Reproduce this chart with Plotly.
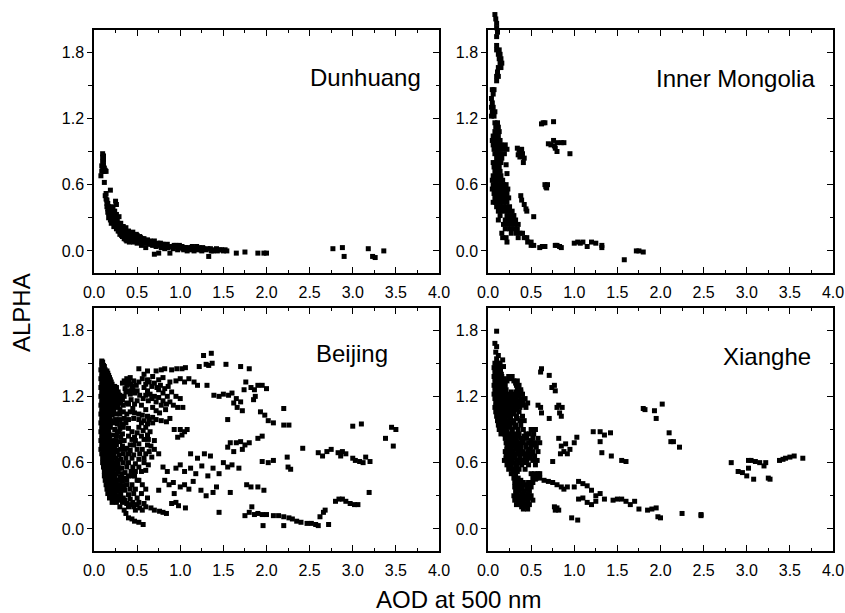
import plotly.graph_objects as go

# ---------------- data (AOD at 500 nm, ALPHA) ----------------
DUNHUANG = [
    (0.08,0.68),(0.09,0.72),(0.09,0.77),(0.10,0.81),(0.10,0.85),(0.10,0.88),(0.11,0.86),(0.11,0.82),
    (0.11,0.78),(0.12,0.75),(0.12,0.72),(0.13,0.73),(0.14,0.72),(0.10,0.74),
    (0.12,0.62),(0.14,0.52),(0.19,0.55),(0.15,0.46),(0.16,0.43),(0.15,0.40),(0.17,0.40),(0.18,0.37),
    (0.16,0.35),(0.18,0.33),(0.17,0.30),(0.19,0.28),(0.20,0.35),(0.21,0.40),(0.22,0.38),(0.23,0.33),
    (0.24,0.30),(0.25,0.45),(0.26,0.42),(0.20,0.25),(0.21,0.31),(0.22,0.27),(0.23,0.22),(0.24,0.36),
    (0.25,0.24),(0.26,0.20),(0.26,0.33),(0.27,0.28),(0.28,0.25),(0.28,0.18),(0.29,0.22),(0.29,0.31),
    (0.30,0.20),(0.30,0.15),(0.31,0.25),(0.32,0.17),(0.32,0.21),(0.33,0.22),(0.33,0.13),(0.34,0.14),
    (0.34,0.19),(0.35,0.19),(0.35,0.11),(0.36,0.16),(0.37,0.21),(0.37,0.10),(0.38,0.13),(0.38,0.09),
    (0.39,0.17),(0.40,0.18),(0.40,0.12),(0.41,0.08),(0.42,0.15),(0.43,0.10),(0.44,0.13),(0.45,0.17),
    (0.46,0.08),(0.47,0.12),(0.48,0.10),(0.49,0.15),(0.50,0.14),(0.50,0.07),(0.52,0.10),(0.53,0.13),
    (0.54,0.12),(0.55,0.05),(0.56,0.09),(0.57,0.11),(0.58,0.11),(0.60,0.07),(0.60,0.03),(0.61,0.09),
    (0.62,0.10),(0.64,0.06),(0.65,0.09),(0.66,0.08),(0.68,0.05),(0.69,0.08),(0.70,0.09),(0.70,-0.03),
    (0.72,0.04),(0.73,0.06),(0.74,0.07),(0.75,-0.02),(0.76,0.05),(0.78,0.03),(0.79,0.06),(0.80,0.06),
    (0.82,0.02),(0.83,0.05),(0.84,0.05),(0.86,0.03),(0.88,-0.02),(0.88,0.04),(0.90,0.04),(0.92,0.02),
    (0.94,0.04),(0.95,0.05),(0.97,0.01),(0.98,0.03),(1.00,0.03),(1.02,0.04),(1.04,0.01),(1.05,0.03),
    (1.06,0.03),(1.08,0.00),(1.10,0.03),(1.12,0.01),(1.13,0.03),(1.14,0.04),(1.16,0.00),(1.18,0.02),
    (1.20,0.01),(1.22,0.03),(1.24,0.01),(1.25,0.00),(1.27,0.02),(1.30,0.01),(1.33,-0.05),(1.35,0.02),
    (1.38,0.00),(1.40,0.01),(1.43,0.00),(1.46,0.01),(1.50,0.00),(1.54,0.00),(1.65,-0.02),(1.75,-0.01),
    (1.90,-0.02),(1.97,-0.02),(2.00,-0.02),(2.77,0.02),(2.88,0.03),(2.90,-0.05),(3.18,0.02),(3.23,-0.05),
    (3.26,-0.06),(3.36,0.00),
    (0.13,0.50),(0.14,0.47),(0.15,0.43),(0.16,0.38),(0.17,0.34),(0.19,0.32),(0.20,0.29),(0.21,0.27),
    (0.22,0.33),(0.23,0.29),(0.24,0.26),(0.25,0.28),(0.26,0.24),(0.27,0.22),(0.28,0.21),(0.29,0.18),
    (0.30,0.24),(0.31,0.19),(0.32,0.14),(0.33,0.17),(0.34,0.22),(0.36,0.13),(0.37,0.15),(0.39,0.11),
    (0.40,0.15),(0.42,0.12),(0.43,0.16),(0.44,0.10),(0.46,0.14),(0.48,0.13),(0.51,0.11),(0.53,0.08),
    (0.55,0.11),(0.58,0.08),(0.63,0.08),(0.67,0.06),(0.71,0.06),(0.77,0.07),(0.81,0.04),(0.85,0.06),
    (0.93,0.05),(0.99,0.05),(1.03,0.02),(1.09,0.02),(1.15,0.02),(1.19,0.04),(1.26,0.03),(1.32,0.02),
    (1.36,0.00),(1.42,0.02),(1.48,0.01),(1.52,0.01),
]

INNER_MONGOLIA = [
    (0.08,2.14),(0.09,2.10),(0.10,2.06),(0.10,2.02),(0.11,1.98),(0.10,1.94),
    (0.10,1.86),(0.10,1.82),(0.13,1.82),(0.12,1.78),(0.14,1.78),(0.13,1.74),(0.15,1.74),(0.14,1.70),
    (0.16,1.70),(0.12,1.66),(0.15,1.66),(0.11,1.62),(0.10,1.58),(0.12,1.58),(0.10,1.54),
    (0.05,1.46),(0.07,1.46),(0.06,1.42),(0.04,1.38),(0.05,1.34),(0.04,1.30),(0.06,1.30),(0.05,1.26),
    (0.08,1.26),(0.04,1.22),(0.07,1.22),
    (0.08,1.16),(0.11,1.16),(0.09,1.12),(0.12,1.12),(0.08,1.08),(0.11,1.08),(0.13,1.08),(0.06,1.04),
    (0.09,1.04),(0.12,1.04),(0.05,1.00),(0.08,1.00),(0.11,1.00),(0.14,1.00),(0.06,0.96),(0.09,0.96),
    (0.12,0.96),(0.15,0.96),(0.20,0.96),(0.07,0.92),(0.10,0.92),(0.13,0.92),(0.17,0.92),(0.22,0.92),
    (0.08,0.88),(0.11,0.88),(0.14,0.88),(0.19,0.88),(0.10,0.84),(0.13,0.84),(0.16,0.84),
    (0.06,0.80),(0.09,0.80),(0.12,0.80),(0.15,0.80),(0.21,0.78),(0.07,0.76),(0.10,0.76),(0.13,0.76),
    (0.22,0.70),(0.08,0.72),(0.11,0.72),(0.14,0.72),(0.06,0.68),(0.09,0.68),(0.12,0.68),(0.15,0.68),
    (0.05,0.64),(0.08,0.64),(0.11,0.64),(0.14,0.64),(0.17,0.64),(0.06,0.60),(0.09,0.60),(0.12,0.60),
    (0.15,0.60),(0.18,0.60),(0.21,0.60),(0.05,0.56),(0.08,0.56),(0.11,0.56),(0.14,0.56),(0.17,0.56),
    (0.20,0.56),(0.23,0.56),(0.07,0.52),(0.10,0.52),(0.13,0.52),(0.16,0.52),(0.19,0.52),(0.22,0.52),
    (0.08,0.48),(0.11,0.48),(0.14,0.48),(0.17,0.48),(0.20,0.48),(0.24,0.48),(0.06,0.44),(0.09,0.44),
    (0.12,0.44),(0.15,0.44),(0.18,0.44),(0.22,0.44),(0.10,0.40),(0.13,0.40),(0.17,0.40),(0.21,0.40),
    (0.25,0.40),(0.12,0.36),(0.15,0.36),(0.20,0.36),(0.24,0.36),(0.28,0.36),(0.14,0.32),(0.22,0.32),
    (0.26,0.32),(0.30,0.32),(0.12,0.28),(0.20,0.28),(0.24,0.28),(0.28,0.28),(0.32,0.28),(0.18,0.24),
    (0.23,0.24),(0.27,0.24),(0.31,0.24),(0.35,0.24),(0.20,0.20),(0.25,0.20),(0.30,0.20),(0.34,0.20),
    (0.16,0.16),(0.27,0.16),(0.33,0.16),(0.37,0.16),(0.40,0.16),(0.17,0.12),(0.21,0.12),(0.35,0.12),
    (0.42,0.12),(0.45,0.12),(0.22,0.08),(0.46,0.08),(0.50,0.08),(0.50,0.05),(0.53,0.05),(0.60,0.03),
    (0.63,0.04),(0.66,0.04),
    (0.78,0.05),(0.80,0.05),(0.83,0.04),(0.85,0.03),
    (1.00,0.07),(1.04,0.08),(1.07,0.07),(1.10,0.08),(1.15,0.04),(1.20,0.08),(1.25,0.07),(1.32,0.05),
    (1.32,0.03),(1.58,-0.08),(1.72,0.00),(1.75,0.00),(1.80,-0.01),
    (0.34,0.93),(0.36,0.91),(0.38,0.90),(0.35,0.87),(0.37,0.85),(0.40,0.88),(0.42,0.84),(0.41,0.80),
    (0.39,0.92),(0.38,0.50),(0.39,0.46),(0.42,0.42),(0.44,0.38),(0.45,0.36),(0.53,0.31),
    (0.66,0.60),(0.67,0.58),(0.68,0.57),(0.69,0.60),
    (0.62,1.15),(0.64,1.16),(0.66,1.16),(0.76,1.17),
    (0.70,0.97),(0.73,0.96),(0.76,1.00),(0.78,0.93),(0.80,0.90),(0.80,0.98),(0.85,0.98),(0.88,0.98),
    (0.77,0.95),(0.95,0.88),
]

BEIJING = [
    (0.09,1.52),(0.10,1.51),(0.09,1.48),(0.11,1.48),(0.12,1.47),(0.08,1.44),(0.10,1.44),(0.13,1.44),
    (0.15,1.43),(0.09,1.40),(0.11,1.40),(0.14,1.40),(0.17,1.39),(0.08,1.36),(0.10,1.36),(0.13,1.36),
    (0.16,1.36),(0.19,1.35),(0.42,1.37),(0.09,1.32),(0.12,1.32),(0.15,1.32),(0.18,1.32),(0.21,1.31),
    (0.33,1.32),(0.38,1.30),(0.08,1.28),(0.10,1.28),(0.13,1.28),(0.16,1.28),(0.19,1.28),(0.23,1.27),
    (0.26,1.28),(0.36,1.27),(0.44,1.29),(0.09,1.24),(0.12,1.24),(0.15,1.24),(0.18,1.24),(0.21,1.24),
    (0.24,1.23),(0.28,1.24),(0.40,1.25),(0.47,1.23),(0.08,1.20),(0.10,1.20),(0.13,1.20),(0.16,1.20),
    (0.19,1.20),(0.22,1.20),(0.26,1.19),(0.30,1.21),(0.35,1.20),(0.09,1.16),(0.12,1.16),(0.15,1.16),
    (0.18,1.16),(0.21,1.16),(0.25,1.16),(0.29,1.15),(0.33,1.17),(0.08,1.12),(0.10,1.12),(0.13,1.12),
    (0.16,1.12),(0.20,1.12),(0.24,1.12),(0.28,1.11),(0.34,1.12),(0.40,1.13),(0.09,1.08),(0.12,1.08),
    (0.15,1.08),(0.19,1.08),(0.23,1.07),(0.30,1.08),(0.45,1.09),(0.08,1.04),(0.11,1.04),(0.14,1.04),
    (0.17,1.04),(0.21,1.03),(0.26,1.04),(0.09,1.00),(0.12,1.00),(0.15,1.00),(0.18,1.00),(0.25,0.99),
    (0.30,0.99),(0.35,1.00),(0.40,0.99),(0.46,1.00),(0.52,0.99),(0.58,0.98),(0.64,0.99),(0.08,0.96),
    (0.11,0.96),(0.14,0.96),(0.17,0.96),(0.22,0.96),(0.27,0.95),(0.55,0.96),(0.62,0.95),(0.68,0.96),
    (0.09,0.92),(0.12,0.92),(0.15,0.92),(0.19,0.92),(0.30,0.91),(0.34,0.92),(0.40,0.91),(0.60,0.92),
    (0.08,0.88),(0.11,0.88),(0.14,0.88),(0.17,0.88),(0.27,0.87),(0.44,0.88),(0.50,0.87),(0.65,0.88),
    (0.09,0.84),(0.12,0.84),(0.15,0.84),(0.18,0.84),(0.26,0.84),(0.47,0.83),(0.55,0.84),(0.62,0.85),
    (0.08,0.80),(0.11,0.80),(0.14,0.80),(0.17,0.80),(0.25,0.80),(0.30,0.79),(0.48,0.80),(0.58,0.81),
    (0.09,0.76),(0.12,0.76),(0.15,0.76),(0.19,0.76),(0.26,0.76),(0.33,0.75),(0.46,0.76),(0.52,0.77),
    (0.62,0.76),(0.66,0.75),(0.08,0.72),(0.11,0.72),(0.14,0.72),(0.17,0.72),(0.21,0.72),(0.27,0.71),
    (0.31,0.72),(0.36,0.72),(0.42,0.71),(0.50,0.72),(0.56,0.72),(0.09,0.68),(0.12,0.68),(0.15,0.68),
    (0.19,0.68),(0.23,0.68),(0.29,0.67),(0.34,0.68),(0.40,0.68),(0.46,0.67),(0.53,0.68),(0.60,0.68),
    (0.10,0.64),(0.13,0.64),(0.16,0.64),(0.20,0.64),(0.25,0.64),(0.31,0.63),(0.37,0.64),(0.44,0.64),
    (0.52,0.63),(0.58,0.64),(0.67,0.65),(0.10,0.60),(0.13,0.60),(0.16,0.60),(0.19,0.60),(0.23,0.60),
    (0.28,0.59),(0.34,0.60),(0.40,0.60),(0.48,0.59),(0.11,0.56),(0.14,0.56),(0.17,0.56),(0.21,0.56),
    (0.26,0.56),(0.32,0.55),(0.38,0.56),(0.45,0.56),(0.12,0.52),(0.15,0.52),(0.18,0.52),(0.22,0.52),
    (0.28,0.52),(0.36,0.51),(0.43,0.52),(0.55,0.52),(0.12,0.48),(0.15,0.48),(0.19,0.48),(0.24,0.48),
    (0.30,0.47),(0.40,0.48),(0.47,0.48),(0.13,0.44),(0.16,0.44),(0.20,0.44),(0.25,0.44),(0.33,0.43),
    (0.38,0.44),(0.52,0.44),(0.14,0.40),(0.17,0.40),(0.21,0.40),(0.27,0.40),(0.35,0.39),(0.44,0.40),
    (0.15,0.36),(0.18,0.36),(0.22,0.36),(0.29,0.36),(0.36,0.35),(0.42,0.36),(0.48,0.36),(0.16,0.32),
    (0.20,0.32),(0.24,0.32),(0.31,0.32),(0.40,0.31),(0.46,0.32),(0.18,0.28),(0.22,0.28),(0.27,0.28),
    (0.34,0.28),(0.42,0.27),(0.50,0.28),(0.21,0.24),(0.26,0.24),(0.33,0.24),(0.38,0.23),(0.45,0.24),
    (0.52,0.24),(0.58,0.23),(0.30,0.20),(0.40,0.20),(0.46,0.20),(0.53,0.19),(0.60,0.20),(0.66,0.19),
    (0.35,0.17),(0.48,0.17),(0.56,0.17),(0.70,0.17),(0.76,0.16),(0.37,0.14),(0.80,0.15),(0.84,0.14),
    (0.40,0.10),(0.44,0.09),(0.47,0.07),(0.52,0.06),(0.57,0.04),
    # dense core, second pass
    (0.095,1.50),(0.115,1.46),(0.10,1.42),(0.13,1.42),(0.16,1.41),(0.095,1.38),(0.125,1.38),(0.155,1.38),
    (0.18,1.37),(0.105,1.34),(0.14,1.34),(0.17,1.34),(0.20,1.33),(0.095,1.30),(0.125,1.30),(0.16,1.30),
    (0.20,1.30),(0.24,1.29),(0.105,1.26),(0.135,1.26),(0.17,1.26),(0.20,1.26),(0.23,1.25),(0.26,1.26),
    (0.095,1.22),(0.125,1.22),(0.16,1.22),(0.20,1.22),(0.24,1.21),(0.28,1.22),(0.105,1.18),(0.14,1.18),
    (0.17,1.18),(0.20,1.18),(0.23,1.18),(0.27,1.18),(0.31,1.18),(0.095,1.14),(0.125,1.14),(0.16,1.14),
    (0.19,1.14),(0.23,1.14),(0.27,1.14),(0.31,1.14),(0.105,1.10),(0.135,1.10),(0.17,1.10),(0.21,1.10),
    (0.26,1.10),(0.095,1.06),(0.125,1.06),(0.16,1.06),(0.20,1.06),(0.105,1.02),(0.135,1.02),(0.17,1.02),
    (0.095,0.98),(0.125,0.98),(0.16,0.98),(0.20,0.98),(0.105,0.94),(0.135,0.94),(0.17,0.94),(0.095,0.90),
    (0.125,0.90),(0.16,0.90),(0.105,0.86),(0.135,0.86),(0.17,0.86),(0.095,0.82),(0.125,0.82),(0.16,0.82),
    (0.105,0.78),(0.135,0.78),(0.17,0.78),(0.22,0.78),(0.095,0.74),(0.125,0.74),(0.16,0.74),(0.19,0.74),
    (0.24,0.74),(0.105,0.70),(0.135,0.70),(0.17,0.70),(0.21,0.70),(0.26,0.70),(0.115,0.66),(0.145,0.66),
    (0.18,0.66),(0.22,0.66),(0.115,0.62),(0.145,0.62),(0.175,0.62),(0.21,0.62),(0.125,0.58),(0.155,0.58),
    (0.19,0.58),(0.235,0.58),(0.135,0.54),(0.165,0.54),(0.20,0.54),(0.25,0.54),(0.135,0.50),(0.17,0.50),
    (0.21,0.50),(0.145,0.46),(0.18,0.46),(0.22,0.46),(0.155,0.42),(0.19,0.42),(0.24,0.42),(0.165,0.38),
    (0.20,0.38),(0.25,0.38),(0.18,0.34),(0.22,0.34),(0.27,0.34),(0.20,0.30),(0.25,0.30),(0.30,0.30),
    (0.23,0.26),(0.29,0.26),(0.36,0.26),(0.43,0.22),(0.50,0.22),
    # cloud right of the core
    (0.35,1.34),(0.38,1.36),(0.40,1.33),(0.43,1.31),(0.46,1.34),(0.49,1.30),(0.52,1.33),(0.37,1.24),
    (0.42,1.22),(0.45,1.26),(0.50,1.25),(0.53,1.21),(0.56,1.36),(0.58,1.40),(0.60,1.31),(0.64,1.33),
    (0.67,1.29),(0.70,1.32),(0.73,1.28),(0.77,1.30),(0.82,1.27),(0.86,1.29),(0.57,1.18),(0.60,1.21),
    (0.63,1.16),(0.67,1.18),(0.72,1.15),(0.75,1.19),(0.80,1.16),(0.84,1.13),(0.68,1.10),(0.72,1.07),
    (0.76,1.05),(0.60,1.08),(0.55,1.12),(0.50,1.16),(0.47,1.13),(0.43,1.17),(0.38,1.14),(0.30,1.04),
    (0.34,1.06),(0.38,1.04),(0.42,1.06),(0.47,1.05),(0.52,1.04),(0.56,1.03),(0.62,1.02),(0.68,1.01),
    (0.72,0.99),(0.78,0.98),(0.84,0.97),(0.88,1.00),(0.32,0.95),(0.37,0.96),(0.24,0.90),(0.22,0.85),
    (0.21,0.80),(0.23,0.74),(0.29,0.88),(0.33,0.86),(0.31,0.83),(0.35,0.80),(0.40,0.84),(0.44,0.81),
    (0.42,0.76),(0.38,0.73),(0.52,0.92),(0.57,0.89),(0.63,0.81),(0.70,0.80),(0.70,0.72),(0.64,0.70),
    (0.75,0.68),(0.58,0.60),(0.63,0.58),(0.52,0.56),(0.60,0.53),(0.48,0.52),(0.44,0.48),(0.50,0.44),
    (0.56,0.40),(0.60,0.36),(0.55,0.32),(0.62,0.28),(0.30,0.55),(0.32,0.50),(0.35,0.46),(0.29,0.44),
    (0.30,0.40),(0.33,0.36),(0.38,0.40),(0.27,0.62),(0.26,0.50),
    # upper scattered arm
    (1.27,1.57),(1.36,1.59),(1.30,1.49),(1.37,1.50),(1.33,1.48),(1.53,1.49),(1.70,1.47),(1.80,1.45),
    (0.52,1.45),(0.62,1.43),(0.72,1.43),(0.78,1.44),(0.82,1.45),(0.90,1.44),(0.96,1.45),(1.02,1.45),
    (1.06,1.46),(1.22,1.47),
    (0.62,1.35),(0.68,1.38),(0.75,1.35),(0.80,1.37),(0.88,1.33),(0.95,1.34),(1.00,1.36),(1.05,1.33),
    (1.10,1.36),(1.16,1.33),(1.20,1.30),
    (0.58,1.28),(0.62,1.25),(0.65,1.22),(0.70,1.20),(0.75,1.26),(0.80,1.23),(0.85,1.20),(0.90,1.24),
    (0.95,1.20),(1.00,1.18),(0.88,1.15),(0.92,1.12),(0.97,1.10),(1.03,1.10),(0.78,1.12),(0.83,1.08),
    (1.31,1.30),(1.39,1.21),(1.45,1.20),(1.50,1.22),(1.56,1.21),(1.60,1.23),(1.65,1.18),(1.66,1.10),
    (1.62,1.14),(1.70,1.15),(1.72,1.07),(1.55,0.99),(1.76,1.33),(1.74,1.26),
    (1.82,1.28),(1.86,1.26),(1.90,1.30),(1.95,1.30),(2.00,1.27),(1.87,1.20),(1.85,1.17),
    (1.93,1.06),(1.98,1.03),(2.02,0.98),(2.08,0.96),(2.20,1.09),(2.20,0.94),(2.26,0.94),
    (0.93,0.90),(1.00,0.90),(1.05,0.88),(1.02,0.85),(0.97,0.83),(1.08,0.90),
    # middle band
    (1.55,0.74),(1.58,0.78),(1.65,0.78),(1.70,0.79),(1.75,0.76),(1.80,0.78),(1.72,0.72),(1.62,0.70),
    (1.90,0.82),(1.95,0.84),(1.12,0.68),(1.20,0.64),(1.28,0.68),(1.35,0.66),
    (0.80,0.56),(0.85,0.52),(0.95,0.55),(1.00,0.58),(1.05,0.52),(1.12,0.55),(1.18,0.50),(1.25,0.57),
    (1.32,0.48),(1.38,0.55),(1.45,0.50),(1.50,0.60),(1.55,0.56),(1.60,0.58),(1.68,0.55),
    (1.95,0.61),(2.02,0.60),(2.08,0.62),(2.24,0.65),(2.25,0.56),(2.28,0.54),
    (0.75,0.35),(0.82,0.44),(0.87,0.40),(0.92,0.42),(1.00,0.38),(1.05,0.40),(1.10,0.36),(1.15,0.43),
    (0.93,0.32),(1.24,0.35),(1.30,0.30),(1.38,0.33),(1.42,0.38),(1.58,0.33),(1.77,0.40),(1.82,0.38),
    (1.90,0.38),(1.97,0.35),(0.90,0.23),(0.98,0.21),(1.06,0.19),(0.95,0.24),
    # lower arm
    (1.45,0.15),(1.75,0.12),(1.83,0.20),(1.80,0.15),(1.86,0.13),(1.90,0.14),(1.95,0.13),(2.00,0.13),
    (2.08,0.12),(2.14,0.12),(2.20,0.11),(2.26,0.10),(1.96,0.03),(2.20,0.03),(2.30,0.09),(2.35,0.07),
    (2.40,0.06),(2.47,0.05),(2.52,0.05),(2.57,0.04),(2.60,0.03),(2.72,0.04),(2.62,0.11),(2.66,0.15),
    (2.68,0.17),(2.80,0.25),(2.84,0.27),(2.88,0.27),(2.92,0.25),(2.97,0.23),(3.02,0.22),(3.06,0.22),
    (3.19,0.33),
    # right cluster
    (2.42,0.73),(2.60,0.69),(2.65,0.66),(2.70,0.70),(2.75,0.72),(2.83,0.69),(2.86,0.66),(2.88,0.70),
    (2.92,0.68),(3.00,0.64),(3.03,0.62),(3.08,0.61),(3.12,0.60),(3.15,0.65),(3.20,0.61),(3.00,0.93),
    (3.10,0.95),(3.38,0.82),(3.45,0.92),(3.50,0.90),(3.47,0.75),
]

XIANGHE = [
    (0.10,1.79),(0.08,1.68),(0.10,1.65),(0.09,1.60),(0.12,1.57),(0.10,1.54),(0.17,1.53),
    (0.08,1.50),(0.11,1.50),(0.14,1.50),(0.07,1.46),(0.10,1.46),(0.13,1.46),(0.18,1.47),
    (0.08,1.42),(0.11,1.42),(0.14,1.42),(0.07,1.38),(0.10,1.38),(0.13,1.38),(0.16,1.38),(0.24,1.38),
    (0.28,1.38),(0.08,1.34),(0.11,1.34),(0.14,1.34),(0.17,1.34),(0.22,1.34),(0.30,1.34),(0.34,1.34),
    (0.07,1.30),(0.10,1.30),(0.13,1.30),(0.16,1.30),(0.20,1.30),(0.33,1.30),(0.36,1.30),
    (0.08,1.26),(0.11,1.26),(0.14,1.26),(0.17,1.26),(0.21,1.26),(0.34,1.26),(0.38,1.26),
    (0.07,1.22),(0.10,1.22),(0.13,1.22),(0.16,1.22),(0.19,1.22),(0.24,1.22),(0.30,1.22),(0.35,1.22),
    (0.40,1.22),(0.08,1.18),(0.11,1.18),(0.14,1.18),(0.18,1.18),(0.22,1.18),(0.27,1.18),(0.32,1.18),
    (0.38,1.18),(0.43,1.18),(0.09,1.14),(0.12,1.14),(0.15,1.14),(0.19,1.14),(0.23,1.14),(0.28,1.14),
    (0.34,1.14),(0.40,1.14),(0.46,1.14),(0.08,1.10),(0.11,1.10),(0.14,1.10),(0.18,1.10),(0.22,1.10),
    (0.27,1.10),(0.32,1.10),(0.37,1.10),(0.44,1.10),(0.09,1.06),(0.12,1.06),(0.16,1.06),(0.20,1.06),
    (0.25,1.06),(0.30,1.06),(0.36,1.06),(0.10,1.02),(0.13,1.02),(0.17,1.02),(0.21,1.02),(0.26,1.02),
    (0.33,1.02),(0.40,1.02),(0.11,0.98),(0.14,0.98),(0.18,0.98),(0.23,0.98),(0.30,0.98),(0.37,0.98),
    (0.42,0.98),(0.12,0.94),(0.15,0.94),(0.19,0.94),(0.25,0.94),(0.32,0.94),(0.38,0.94),
    (0.13,0.90),(0.17,0.90),(0.21,0.90),(0.28,0.90),(0.35,0.90),(0.41,0.90),(0.50,0.90),(0.55,0.90),
    (0.15,0.86),(0.19,0.86),(0.24,0.86),(0.31,0.86),(0.36,0.86),(0.44,0.86),(0.48,0.86),(0.53,0.86),
    (0.20,0.82),(0.26,0.82),(0.32,0.82),(0.38,0.82),(0.45,0.82),(0.52,0.82),(0.58,0.82),
    (0.21,0.78),(0.25,0.78),(0.30,0.78),(0.35,0.78),(0.41,0.78),(0.47,0.78),(0.55,0.78),(0.60,0.78),
    (0.22,0.74),(0.27,0.74),(0.33,0.74),(0.38,0.74),(0.44,0.74),(0.50,0.74),(0.56,0.74),
    (0.20,0.70),(0.24,0.70),(0.29,0.70),(0.35,0.70),(0.40,0.70),(0.46,0.70),(0.52,0.70),(0.58,0.70),
    (0.21,0.66),(0.26,0.66),(0.31,0.66),(0.37,0.66),(0.43,0.66),(0.48,0.66),(0.54,0.66),
    (0.19,0.62),(0.23,0.62),(0.28,0.62),(0.34,0.62),(0.40,0.62),(0.45,0.62),(0.52,0.62),(0.57,0.62),
    (0.22,0.58),(0.27,0.58),(0.33,0.58),(0.39,0.58),(0.47,0.58),(0.55,0.58),
    (0.24,0.54),(0.30,0.54),(0.36,0.54),(0.43,0.54),(0.27,0.50),(0.32,0.50),(0.50,0.50),(0.54,0.50),
    (0.58,0.50),(0.30,0.46),(0.35,0.46),(0.52,0.46),(0.56,0.46),(0.60,0.46),
    (0.31,0.42),(0.36,0.42),(0.41,0.42),(0.47,0.42),(0.52,0.42),(0.31,0.38),(0.34,0.38),(0.39,0.38),
    (0.45,0.38),(0.50,0.38),(0.32,0.34),(0.36,0.34),(0.42,0.34),(0.48,0.34),(0.30,0.30),(0.34,0.30),
    (0.38,0.30),(0.44,0.30),(0.50,0.30),(0.31,0.26),(0.35,0.26),(0.40,0.26),(0.46,0.26),(0.52,0.26),
    (0.33,0.22),(0.38,0.22),(0.43,0.22),(0.48,0.22),(0.41,0.18),(0.46,0.18),
    # dense core, second pass
    (0.095,1.48),(0.125,1.48),(0.085,1.44),(0.115,1.44),(0.145,1.44),(0.095,1.40),(0.125,1.40),(0.155,1.40),
    (0.085,1.36),(0.115,1.36),(0.145,1.36),(0.19,1.36),(0.26,1.36),(0.095,1.32),(0.125,1.32),(0.155,1.32),
    (0.19,1.32),(0.32,1.32),(0.085,1.28),(0.115,1.28),(0.15,1.28),(0.19,1.28),(0.35,1.28),(0.095,1.24),
    (0.125,1.24),(0.16,1.24),(0.20,1.24),(0.27,1.24),(0.33,1.24),(0.38,1.24),(0.095,1.20),(0.125,1.20),
    (0.16,1.20),(0.20,1.20),(0.25,1.20),(0.30,1.20),(0.35,1.20),(0.105,1.16),(0.135,1.16),(0.17,1.16),
    (0.21,1.16),(0.26,1.16),(0.31,1.16),(0.37,1.16),(0.095,1.12),(0.125,1.12),(0.16,1.12),(0.20,1.12),
    (0.25,1.12),(0.30,1.12),(0.35,1.12),(0.41,1.12),(0.105,1.08),(0.14,1.08),(0.18,1.08),(0.23,1.08),
    (0.28,1.08),(0.33,1.08),(0.115,1.04),(0.15,1.04),(0.19,1.04),(0.24,1.04),(0.30,1.04),(0.125,1.00),
    (0.16,1.00),(0.20,1.00),(0.26,1.00),(0.34,1.00),(0.135,0.96),(0.17,0.96),(0.22,0.96),(0.28,0.96),
    (0.145,0.92),(0.19,0.92),(0.24,0.92),(0.31,0.92),(0.17,0.88),(0.22,0.88),(0.28,0.88),(0.23,0.84),
    (0.29,0.84),(0.35,0.84),(0.42,0.84),(0.23,0.80),(0.28,0.80),(0.33,0.80),(0.40,0.80),(0.50,0.80),
    (0.24,0.76),(0.30,0.76),(0.36,0.76),(0.44,0.76),(0.52,0.76),(0.22,0.72),(0.27,0.72),(0.32,0.72),
    (0.38,0.72),(0.48,0.72),(0.23,0.68),(0.28,0.68),(0.34,0.68),(0.42,0.68),(0.51,0.68),(0.21,0.64),
    (0.26,0.64),(0.31,0.64),(0.37,0.64),(0.49,0.64),(0.25,0.60),(0.30,0.60),(0.36,0.60),(0.43,0.60),
    (0.27,0.56),(0.33,0.56),(0.29,0.52),(0.34,0.52),(0.33,0.44),(0.38,0.44),(0.33,0.40),(0.37,0.40),
    (0.43,0.40),(0.34,0.36),(0.39,0.36),(0.45,0.36),(0.33,0.32),(0.40,0.32),(0.46,0.32),(0.33,0.28),
    (0.37,0.28),(0.42,0.28),(0.48,0.28),(0.36,0.24),(0.41,0.24),(0.46,0.24),(0.39,0.20),(0.44,0.20),
    # scattered upper
    (0.62,1.45),(0.61,1.42),(0.71,1.39),(0.74,1.28),(0.77,1.30),(0.78,1.25),(0.58,1.12),(0.61,1.10),
    (0.62,1.05),(0.71,1.00),(0.80,1.10),(0.82,1.12),(0.86,1.10),(0.85,1.02),(0.83,1.05),
    (0.82,0.82),(0.85,0.75),(0.88,0.70),(0.92,0.68),(0.95,0.72),(1.00,0.78),(1.03,0.83),(0.90,0.77),
    (0.84,0.68),(0.75,0.61),
    (1.22,0.88),(1.30,0.88),(1.35,0.85),(1.42,0.87),(1.30,0.79),(1.32,0.69),(1.43,0.66),(1.55,0.62),
    (1.60,0.61),(1.80,1.09),(1.82,1.08),(1.93,1.07),(2.02,1.13),(1.95,1.00),(2.10,0.87),(2.12,0.79),
    (2.15,0.79),(2.22,0.74),
    # lower band
    (0.55,0.45),(0.60,0.50),(0.65,0.44),(0.70,0.43),(0.75,0.42),(0.80,0.40),(0.85,0.38),(0.88,0.36),
    (0.92,0.38),(1.00,0.38),(1.05,0.43),(1.10,0.41),(1.15,0.39),(1.20,0.35),(1.25,0.30),(1.30,0.32),
    (1.35,0.27),(1.10,0.28),(1.15,0.24),(1.20,0.22),(1.25,0.25),(1.45,0.26),(1.50,0.27),(1.55,0.27),
    (1.60,0.25),(1.65,0.22),(1.70,0.25),(1.75,0.18),(1.85,0.17),(1.90,0.18),(1.95,0.19),(1.97,0.11),
    (2.00,0.10),(2.25,0.14),(2.47,0.12),(2.47,0.13),
    (0.77,0.20),(0.80,0.19),(0.82,0.17),(0.78,0.17),(0.97,0.10),(1.04,0.08),(1.05,0.27),
    # right cluster
    (2.82,0.60),(2.90,0.52),(2.95,0.51),(3.00,0.48),(3.02,0.55),(3.02,0.62),(3.05,0.62),(3.08,0.45),
    (3.10,0.61),(3.15,0.60),(3.20,0.57),(3.22,0.60),(3.25,0.46),(3.27,0.45),(3.38,0.62),(3.42,0.63),
    (3.45,0.64),(3.50,0.65),(3.55,0.66),(3.65,0.64),
]

STATIONS = ["Dunhuang", "Inner Mongolia", "Beijing", "Xianghe"]
X_TICKS = [0.0, 0.5, 1.0, 1.5, 2.0, 2.5, 3.0, 3.5, 4.0]
Y_TICKS = [0.0, 0.6, 1.2, 1.8]
X_RANGE = [0, 4]
Y_RANGE = [-0.2, 2.0]

# ---------------- figure ----------------
W, H = 845, 613
FONT = "Liberation Sans, Arial, Helvetica, sans-serif"

def px_x(a, b):
    return [a / W, b / W]

def px_y(top, bottom):
    return [1 - bottom / H, 1 - top / H]

PANEL_TOP = [30, 30, 308, 308]
PANEL_BOTTOM = [273, 273, 551, 551]
xdomains = [px_x(94, 439), px_x(488, 833), px_x(94, 439), px_x(488, 833)]
ydomains = [px_y(t, b) for t, b in zip(PANEL_TOP, PANEL_BOTTOM)]
label_pos = [(3.81, 1.57), (3.81, 1.56), (3.43, 1.59), (3.77, 1.56)]
datasets = [DUNHUANG, INNER_MONGOLIA, BEIJING, XIANGHE]

fig = go.Figure()
layout = dict(
    width=W, height=H, autosize=False,
    margin=dict(l=0, r=0, t=0, b=0, pad=0),
    paper_bgcolor="white", plot_bgcolor="rgba(0,0,0,0)",
    showlegend=False,
    font=dict(family=FONT, color="black"),
    annotations=[],
)

marker = dict(symbol="square", size=5, color="black", line=dict(width=0))
tickfont = dict(family=FONT, size=16, color="black")

for i in range(4):
    n = i + 1
    xs = "x" if n == 1 else f"x{n}"
    ys = "y" if n == 1 else f"y{n}"
    yr = f"y{n + 4}"
    pts = datasets[i]
    if n == 2:
        # Inner Mongolia points run above the frame: a hidden axis with the same
        # scale but a taller domain lets them show, as in the original.
        scale = (PANEL_BOTTOM[i] - PANEL_TOP[i]) / (Y_RANGE[1] - Y_RANGE[0])
        top_val = Y_RANGE[0] + PANEL_BOTTOM[i] / scale
        layout["yaxis9"] = dict(domain=[1 - PANEL_BOTTOM[i] / H, 1.0], anchor=xs,
                                range=[Y_RANGE[0], top_val], visible=False,
                                showgrid=False, zeroline=False)
        data_y = "y9"
    else:
        data_y = ys
    fig.add_trace(go.Scatter(
        x=[p[0] for p in pts], y=[p[1] for p in pts],
        mode="markers", xaxis=xs, yaxis=data_y,
        marker=marker, cliponaxis=False, hoverinfo="x+y",
    ))
    fig.add_trace(go.Scatter(x=[None], y=[None], mode="markers", xaxis=xs, yaxis=ys,
                             showlegend=False, hoverinfo="skip"))
    # empty trace to bring up the right-hand mirror axis
    fig.add_trace(go.Scatter(x=[None], y=[None], mode="markers", xaxis=xs, yaxis=yr,
                             showlegend=False, hoverinfo="skip"))
    layout[f"xaxis{'' if n == 1 else n}"] = dict(
        domain=xdomains[i], anchor=ys, range=X_RANGE, automargin=False,
        tickmode="array", tickvals=X_TICKS, ticktext=[f"{v:.1f}" for v in X_TICKS],
        ticks="inside", ticklen=6, tickwidth=1.3, tickcolor="black",
        minor=dict(ticks="inside", dtick=0.25, tick0=0, ticklen=3, tickwidth=1.3, tickcolor="black"),
        showline=True, linewidth=1.5, linecolor="black", mirror="ticks",
        showgrid=False, zeroline=False, tickfont=tickfont, ticklabelstandoff=4,
    )
    layout[f"yaxis{'' if n == 1 else n}"] = dict(
        domain=ydomains[i], anchor=xs, range=Y_RANGE, automargin=False,
        tickmode="array", tickvals=Y_TICKS, ticktext=[f"{v:.1f}" for v in Y_TICKS],
        ticks="outside", ticklen=5, tickwidth=1.3, tickcolor="black",
        minor=dict(ticks="outside", dtick=0.3, tick0=0, ticklen=4, tickwidth=1.3, tickcolor="black"),
        showline=True, linewidth=1.5, linecolor="black", mirror=False,
        showgrid=False, zeroline=False, tickfont=tickfont,
    )
    layout[f"yaxis{n + 4}"] = dict(
        overlaying=ys, anchor=xs, side="right", range=Y_RANGE, automargin=False,
        tickmode="array", tickvals=Y_TICKS, showticklabels=False,
        ticks="inside", ticklen=6, tickwidth=1.3, tickcolor="black",
        minor=dict(ticks="inside", dtick=0.3, tick0=0, ticklen=3, tickwidth=1.3, tickcolor="black"),
        showline=True, linewidth=1.5, linecolor="black",
        showgrid=False, zeroline=False,
    )
    lx, ly = label_pos[i]
    layout["annotations"].append(dict(
        text=STATIONS[i], x=lx, y=ly, xref=xs, yref=ys,
        xanchor="right", yanchor="middle", showarrow=False,
        font=dict(family=FONT, size=24, color="black"),
    ))

layout["annotations"].append(dict(
    text="ALPHA", x=22 / W, y=1 - 313 / H, xref="paper", yref="paper",
    textangle=-90, xanchor="center", yanchor="middle", showarrow=False,
    font=dict(family=FONT, size=24, color="black"),
))
layout["annotations"].append(dict(
    text="AOD at 500 nm", x=458 / W, y=1 - 599 / H, xref="paper", yref="paper",
    xanchor="center", yanchor="middle", showarrow=False,
    font=dict(family=FONT, size=24, color="black"),
))

fig.update_layout(**layout)
# remove the page's default body margin so the figure sits at the window origin
fig.write_html("out.html",
               config={"displayModeBar": False},
               post_script="document.body.style.margin='0px';document.body.style.overflow='hidden';")
